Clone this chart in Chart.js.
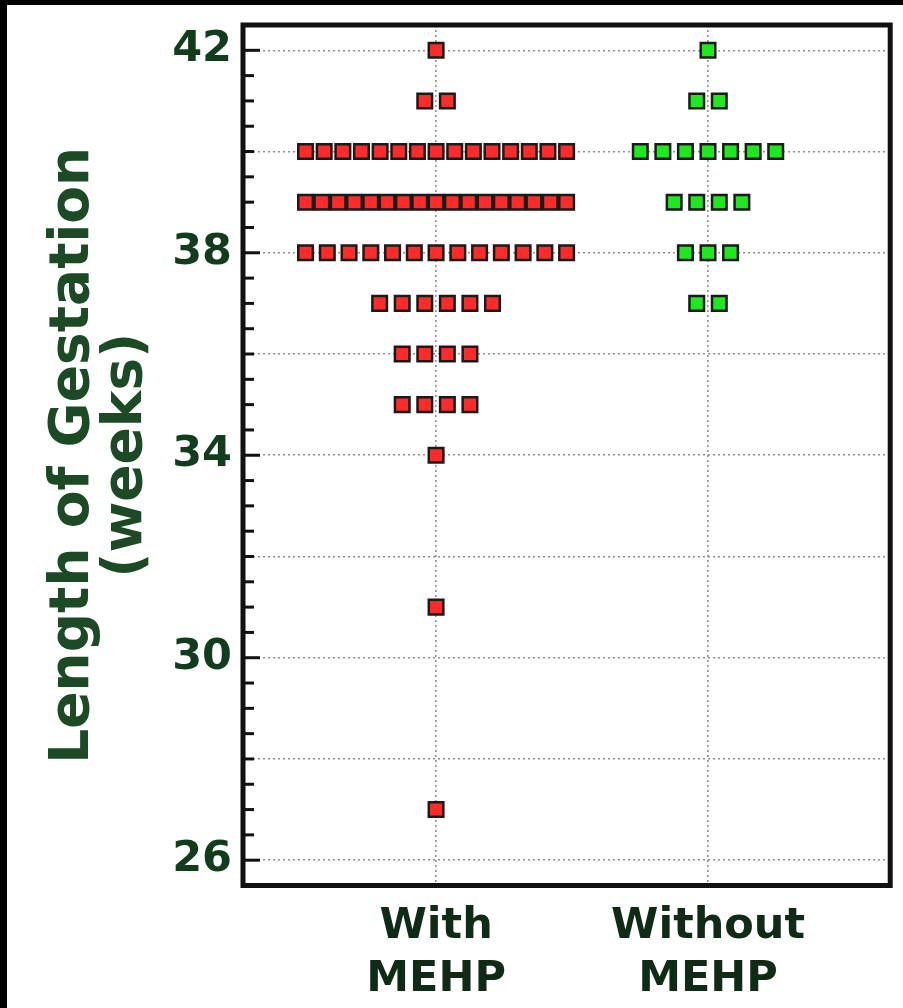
<!DOCTYPE html>
<html>
<head>
<meta charset="utf-8">
<script src="https://cdn.jsdelivr.net/npm/chart.js@4.4.1/dist/chart.umd.min.js"></script>
<style>
  html, body { margin: 0; padding: 0; background: #000; }
  #wrap { position: absolute; left: 7px; top: 5px; width: 896px; height: 1003px; background: #fff; }
</style>
</head>
<body>
<div id="wrap"><canvas id="c"></canvas></div>
<script>
const categories = ['With MEHP', 'Without MEHP'];
const withWeeks = [42, 41, 40, 39, 38, 37, 36, 35, 34, 31, 27];
const withCounts = [1, 2, 15, 17, 13, 6, 4, 4, 1, 1, 1];
const withoutWeeks = [42, 41, 40, 39, 38, 37];
const withoutCounts = [1, 2, 7, 4, 3, 2];
const yTickLabels = [26, 30, 34, 38, 42];
const gridWeeks = [26, 28, 30, 32, 34, 36, 38, 40, 42];

// dot-plot stacking: spread equal values side by side around the category
const MAX_PITCH = 0.083, MAX_SPAN = 0.96;
function stack(catIndex, weeks, counts) {
  const pts = [];
  weeks.forEach((w, r) => {
    const n = counts[r];
    const pitch = n > 1 ? Math.min(MAX_PITCH, MAX_SPAN / (n - 1)) : 0;
    for (let i = 0; i < n; i++) pts.push({ x: catIndex + 1 + (i - (n - 1) / 2) * pitch, y: w });
  });
  return pts;
}

const frame = {
  id: 'frame',
  afterDatasetsDraw(chart) {
    const { ctx, chartArea: a, scales: { y } } = chart;
    ctx.save();
    ctx.strokeStyle = '#111';
    ctx.lineWidth = 3;
    y.ticks.forEach(t => {
      if (t.value <= y.min || t.value >= y.max) return;
      const py = y.getPixelForValue(t.value);
      const len = yTickLabels.includes(t.value) ? 17 : 11;
      ctx.beginPath(); ctx.moveTo(a.left, py); ctx.lineTo(a.left + len, py); ctx.stroke();
    });
    ctx.lineWidth = 5;
    ctx.strokeRect(a.left, a.top, a.right - a.left, a.bottom - a.top);
    ctx.restore();
  }
};

const FONT = 'DejaVu Sans';
new Chart(document.getElementById('c'), {
  type: 'scatter',
  data: {
    datasets: [
      { label: categories[0], data: stack(0, withWeeks, withCounts),
        pointStyle: 'rect', pointRadius: 10.3, pointBackgroundColor: '#ff2b2b', pointBorderColor: '#1a1a1a', pointBorderWidth: 2.5 },
      { label: categories[1], data: stack(1, withoutWeeks, withoutCounts),
        pointStyle: 'rect', pointRadius: 10.3, pointBackgroundColor: '#1ee81e', pointBorderColor: '#1a1a1a', pointBorderWidth: 2.5 }
    ]
  },
  options: {
    responsive: true, maintainAspectRatio: false, animation: false,
    layout: { padding: { top: 20, right: 10, left: 0, bottom: 0 } },
    plugins: { legend: { display: false }, tooltip: { enabled: false } },
    scales: {
      x: {
        type: 'linear', min: 0.29, max: 2.67,
        afterBuildTicks: s => { s.ticks = categories.map((c, i) => ({ value: i + 1 })); },
        afterFit: s => { s.height = 122.5; s.paddingLeft = 0; s.paddingRight = 0; },
        grid: { color: '#8f8f8f', lineWidth: 1.6, drawTicks: false },
        border: { display: false, dash: [2, 3] },
        ticks: { padding: 14, autoSkip: false, maxRotation: 0, color: '#0f2a15',
          font: { family: FONT, weight: 'bold', size: 43, lineHeight: 1.25 },
          callback: v => categories[v - 1] ? categories[v - 1].split(' ') : '' }
      },
      y: {
        min: 25.5, max: 42.5,
        afterFit: s => { s.width = 236; s.paddingTop = 0; s.paddingBottom = 0; },
        grid: { drawTicks: false, lineWidth: 1.6,
          color: c => gridWeeks.includes(c.tick.value) ? '#8f8f8f' : 'transparent' },
        border: { display: false, dash: [2, 3] },
        ticks: { stepSize: 0.5, autoSkip: false, padding: 11, color: '#123d1c',
          font: { family: FONT, weight: 'bold', size: 43, lineHeight: 1 },
          callback: v => yTickLabels.includes(v) ? String(v) : '' },
        title: { display: true, text: ['Length of Gestation', '(weeks)'], color: '#1b4a24',
          font: { family: FONT, weight: 'bold', size: 55, lineHeight: 0.97 },
          padding: { top: 40, bottom: 0 } }
      }
    }
  },
  plugins: [frame]
});
</script>
</body>
</html>
